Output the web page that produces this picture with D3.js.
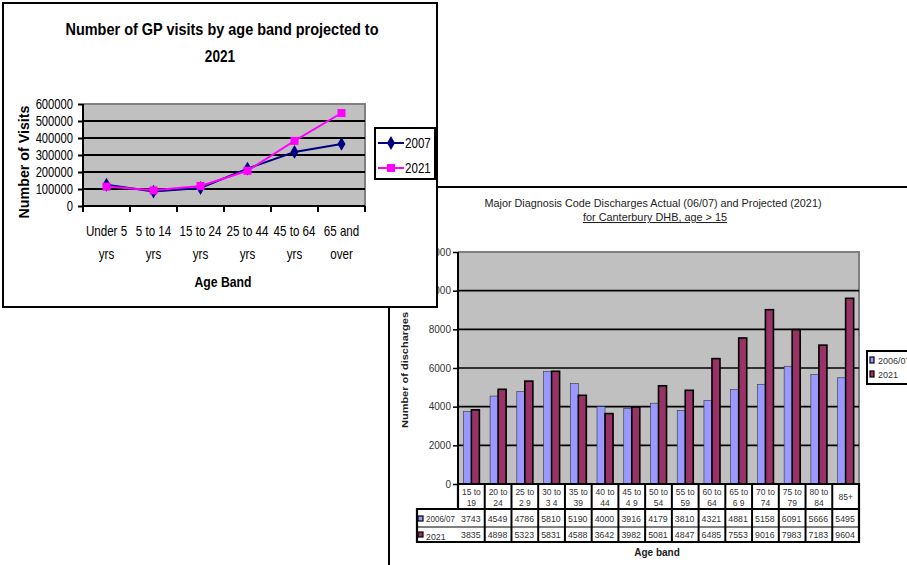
<!DOCTYPE html>
<html>
<head>
<meta charset="utf-8">
<script src="https://cdn.jsdelivr.net/npm/d3@7"></script>
<style>
  html, body { margin: 0; padding: 0; background: #fff; }
  svg { display: block; }
  .narrow { font-family: "Liberation Sans", Arial, sans-serif; }
  .arial { font-family: "Liberation Sans", Arial, sans-serif; }
</style>
</head>
<body>
<svg id="chart" width="907" height="565"></svg>
<script>
// GP visits by age band
const gpBands = ["Under 5|yrs", "5 to 14|yrs", "15 to 24|yrs", "25 to 44|yrs", "45 to 64|yrs", "65 and|over"];
const gp2007 = [125000, 85000, 106000, 220000, 318000, 365000];
const gp2021 = [114000, 92000, 118000, 207000, 383000, 547000];
const gpTicks = [0, 100000, 200000, 300000, 400000, 500000, 600000];

// Discharges by age band
const dischargeBands = ["15 to|19", "20 to|24", "25 to|2 9", "30 to|3 4", "35 to|39", "40 to|44", "45 to|4 9",
  "50 to|54", "55 to|59", "60 to|64", "65 to|6 9", "70 to|74", "75 to|79", "80 to|84", "85+"];
const discharges0607 = [3743, 4549, 4786, 5810, 5190, 4000, 3916, 4179, 3810, 4321, 4881, 5158, 6091, 5666, 5495];
const discharges2021 = [3835, 4898, 5323, 5831, 4588, 3642, 3982, 5081, 4847, 6485, 7553, 9016, 7983, 7183, 9604];
const dischargeTicks = [0, 2000, 4000, 6000, 8000, 10000, 12000];
const dischargeSeries = ["2006/07", "2021"];

const svg = d3.select("#chart");

// squeeze a text (or tspan) horizontally to mimic a condensed face
function condense(sel, f) {
  sel.each(function () {
    const w = this.getComputedTextLength();
    d3.select(this).attr("textLength", w * f).attr("lengthAdjust", "spacingAndGlyphs");
  });
}
function fitTo(sel, w) {
  sel.attr("textLength", w).attr("lengthAdjust", "spacingAndGlyphs");
}

/* ---------------- Discharges bar chart (drawn first, sits underneath) ---------------- */
const B = { left: 458, right: 859, top: 252, bottom: 484 };
const bg = svg.append("g");

// outer frame of the discharges chart
bg.append("line").attr("x1", 389).attr("x2", 907).attr("y1", 187).attr("y2", 187)
  .attr("stroke", "#000").attr("stroke-width", 2);
bg.append("line").attr("x1", 389).attr("x2", 389).attr("y1", 187).attr("y2", 565)
  .attr("stroke", "#000").attr("stroke-width", 2);

bg.append("text").attr("class", "arial").attr("x", 653).attr("y", 207)
  .attr("text-anchor", "middle").attr("font-size", 10.5).attr("fill", "#222")
  .text("Major Diagnosis Code Discharges Actual (06/07) and Projected (2021)")
  .call(fitTo, 337);
bg.append("text").attr("class", "arial").attr("x", 655).attr("y", 221)
  .attr("text-anchor", "middle").attr("font-size", 10.5).attr("fill", "#222")
  .attr("text-decoration", "underline")
  .text("for Canterbury DHB, age > 15")
  .call(fitTo, 144);

const bx = d3.scaleBand().domain(dischargeBands).range([B.left, B.right])
  .paddingInner(0.4).paddingOuter(0.2);
const bxs = d3.scaleBand().domain(dischargeSeries).range([0, bx.bandwidth()]);
const by = d3.scaleLinear().domain([0, 12000]).range([B.bottom, B.top]);
const bColors = d3.scaleOrdinal().domain(dischargeSeries).range(["#9999FF", "#993366"]);

bg.append("rect").attr("x", B.left).attr("y", B.top)
  .attr("width", B.right - B.left).attr("height", B.bottom - B.top)
  .attr("fill", "#C0C0C0");
bg.append("path")
  .attr("d", `M${B.left},${B.top}H${B.right}V${B.bottom}`)
  .attr("fill", "none").attr("stroke", "#808080").attr("stroke-width", 2);

bg.append("g").selectAll("line").data(dischargeTicks.filter(t => t > 0 && t < 12000)).join("line")
  .attr("x1", B.left).attr("x2", B.right)
  .attr("y1", d => by(d)).attr("y2", d => by(d))
  .attr("stroke", "#000").attr("stroke-width", 1.6);

const rows = dischargeBands.map((b, i) => ({ band: b, vals: [discharges0607[i], discharges2021[i]] }));
bg.append("g").selectAll("g").data(rows).join("g")
  .attr("transform", d => `translate(${bx(d.band)},0)`)
  .selectAll("rect").data(d => d.vals.map((v, j) => ({ s: dischargeSeries[j], v })))
  .join("rect")
  .attr("x", d => bxs(d.s))
  .attr("y", d => by(d.v))
  .attr("width", bxs.bandwidth())
  .attr("height", d => by(0) - by(d.v))
  .attr("fill", d => bColors(d.s))
  .attr("stroke", d => d.s === "2021" ? "#000" : "#333")
  .attr("stroke-width", d => d.s === "2021" ? 1.6 : 0.6);

// y axis
const byAxis = bg.append("g").attr("transform", `translate(${B.left},0)`)
  .call(d3.axisLeft(by).tickValues(dischargeTicks).tickSize(5).tickPadding(2).tickFormat(d3.format("d")));
byAxis.select(".domain").attr("stroke", "#000").attr("stroke-width", 2).attr("d", `M0,${B.top}V${B.bottom}`);
byAxis.selectAll(".tick line").attr("stroke", "#000").attr("stroke-width", 1.5);
byAxis.selectAll(".tick text").attr("class", "arial").attr("font-size", 10).attr("fill", "#333");

bg.append("text").attr("class", "arial")
  .attr("transform", "translate(408,370) rotate(-90)")
  .attr("text-anchor", "middle").attr("font-size", 9.5).attr("font-weight", "bold").attr("fill", "#222")
  .text("Number of discharges")
  .call(fitTo, 116);

// data table under the plot
const T = { keyLeft: 417, headTop: 484, headBottom: 509, row1Bottom: 527, row2Bottom: 542 };
const colEdge = i => B.left + i * (B.right - B.left) / dischargeBands.length;
const tbl = bg.append("g");
tbl.append("rect").attr("x", B.left).attr("y", T.headTop)
  .attr("width", B.right - B.left).attr("height", T.row2Bottom - T.headTop)
  .attr("fill", "#fff");
tbl.append("rect").attr("x", T.keyLeft).attr("y", T.headBottom)
  .attr("width", B.left - T.keyLeft).attr("height", T.row2Bottom - T.headBottom)
  .attr("fill", "#fff");
// column separators
tbl.selectAll("line.col").data(d3.range(1, dischargeBands.length)).join("line")
  .attr("class", "col")
  .attr("x1", i => colEdge(i)).attr("x2", i => colEdge(i))
  .attr("y1", T.headTop).attr("y2", T.row2Bottom)
  .attr("stroke", "#000").attr("stroke-width", 2);
tbl.append("line").attr("x1", T.keyLeft).attr("x2", B.right).attr("y1", T.headBottom).attr("y2", T.headBottom)
  .attr("stroke", "#000").attr("stroke-width", 2);
tbl.append("line").attr("x1", T.keyLeft).attr("x2", B.right).attr("y1", T.row1Bottom).attr("y2", T.row1Bottom)
  .attr("stroke", "#000").attr("stroke-width", 1);
tbl.append("path")
  .attr("d", `M${B.left},${T.headTop}H${B.right}V${T.row2Bottom}H${T.keyLeft}V${T.headBottom}H${B.left}Z`)
  .attr("fill", "none").attr("stroke", "#000").attr("stroke-width", 2.2);

// header labels
const heads = tbl.selectAll("text.head").data(dischargeBands).join("text")
  .attr("class", "arial head")
  .attr("x", d => bx(d) + bx.bandwidth() / 2)
  .attr("text-anchor", "middle").attr("font-size", 8.5).attr("fill", "#333");
heads.each(function (d) {
  const parts = d.split("|");
  const t = d3.select(this);
  if (parts.length === 1) {
    t.attr("y", 500).text(parts[0]);
  } else {
    t.append("tspan").attr("x", bx(d) + bx.bandwidth() / 2).attr("y", 495).text(parts[0]);
    t.append("tspan").attr("x", bx(d) + bx.bandwidth() / 2).attr("y", 506).text(parts[1]);
  }
});
// value rows
const tableRows = [
  { name: "2006/07", vals: discharges0607, y: 522 },
  { name: "2021", vals: discharges2021, y: 538 }
];
tableRows.forEach(r => {
  tbl.append("g").selectAll("text").data(r.vals).join("text")
    .attr("class", "arial")
    .attr("x", (v, i) => colEdge(i) + 3)
    .attr("y", r.y)
    .attr("font-size", 8.8).attr("fill", "#333")
    .text(v => v);
  tbl.append("rect").attr("x", 418).attr("y", r.y - 6).attr("width", 5).attr("height", 5)
    .attr("fill", bColors(r.name)).attr("stroke", "#000").attr("stroke-width", 1.2);
  tbl.append("text").attr("class", "arial").attr("x", 426).attr("y", r.y + (r.name === "2021" ? 2 : 0))
    .attr("font-size", 8.8).attr("fill", "#333").text(r.name)
    .call(r.name === "2006/07" ? fitTo : () => {}, 29);
});

bg.append("text").attr("class", "arial").attr("x", 657).attr("y", 556)
  .attr("text-anchor", "middle").attr("font-size", 10).attr("font-weight", "bold").attr("fill", "#222")
  .text("Age band");

// legend (runs off the right edge)
const bl = bg.append("g");
bl.append("rect").attr("x", 867).attr("y", 351).attr("width", 60).attr("height", 33)
  .attr("fill", "#fff").attr("stroke", "#000").attr("stroke-width", 2);
dischargeSeries.forEach((s, i) => {
  bl.append("rect").attr("x", 870).attr("y", 357 + i * 14).attr("width", 4).attr("height", 6)
    .attr("fill", bColors(s)).attr("stroke", "#000").attr("stroke-width", 1.2);
  bl.append("text").attr("class", "arial").attr("x", 878).attr("y", 364 + i * 14)
    .attr("font-size", 9).attr("fill", "#333").text(s);
});

/* ---------------- GP visits line chart (on top) ---------------- */
const NARROW = 0.8;
const L = { left: 83, right: 365, top: 104, bottom: 206 };
const lg = svg.append("g");
lg.append("rect").attr("x", 3).attr("y", 3).attr("width", 434).attr("height", 304)
  .attr("fill", "#fff").attr("stroke", "#000").attr("stroke-width", 2);

lg.append("text").attr("class", "narrow").attr("x", 222).attr("y", 35)
  .attr("text-anchor", "middle").attr("font-size", 17).attr("font-weight", "bold")
  .text("Number of GP visits by age band projected to")
  .call(fitTo, 313);
lg.append("text").attr("class", "narrow").attr("x", 220).attr("y", 62)
  .attr("text-anchor", "middle").attr("font-size", 17).attr("font-weight", "bold")
  .text("2021")
  .call(condense, NARROW);

const lx = d3.scaleBand().domain(gpBands).range([L.left, L.right]);
const ly = d3.scaleLinear().domain([0, 600000]).range([L.bottom, L.top]);

lg.append("rect").attr("x", L.left).attr("y", L.top)
  .attr("width", L.right - L.left).attr("height", L.bottom - L.top).attr("fill", "#C0C0C0");
lg.append("path").attr("d", `M${L.left},${L.top}H${L.right}V${L.bottom}`)
  .attr("fill", "none").attr("stroke", "#808080").attr("stroke-width", 2);
lg.append("g").selectAll("line").data(gpTicks.filter(t => t > 0 && t < 600000)).join("line")
  .attr("x1", L.left).attr("x2", L.right)
  .attr("y1", d => ly(d)).attr("y2", d => ly(d))
  .attr("stroke", "#000").attr("stroke-width", 1.8);

const lyAxis = lg.append("g").attr("transform", `translate(${L.left},0)`)
  .call(d3.axisLeft(ly).tickValues(gpTicks).tickSize(5).tickPadding(5).tickFormat(d3.format("d")));
lyAxis.select(".domain").attr("stroke", "#000").attr("stroke-width", 2).attr("d", `M0,${L.top}V${L.bottom}`);
lyAxis.selectAll(".tick line").attr("stroke", "#000").attr("stroke-width", 2);
lyAxis.selectAll(".tick text").attr("class", "narrow").attr("font-size", 14).attr("fill", "#000")
  .call(condense, NARROW);

// x axis with ticks on category boundaries
const lxAxis = lg.append("g").attr("transform", `translate(0,${L.bottom})`);
lxAxis.append("line").attr("x1", L.left).attr("x2", L.right).attr("stroke", "#000").attr("stroke-width", 2);
lxAxis.selectAll("line.tk").data(d3.range(gpBands.length + 1)).join("line").attr("class", "tk")
  .attr("x1", i => L.left + i * lx.step()).attr("x2", i => L.left + i * lx.step())
  .attr("y1", 0).attr("y2", 6).attr("stroke", "#000").attr("stroke-width", 2);
// category labels, two lines each, horizontally squeezed
lg.selectAll("g.xl").data(gpBands).join("g").attr("class", "xl")
  .attr("transform", d => `translate(${lx(d) + lx.bandwidth() / 2},0) scale(${NARROW},1)`)
  .each(function (d) {
    const p = d.split("|");
    const g = d3.select(this);
    p.forEach((s, k) => g.append("text").attr("class", "narrow")
      .attr("x", 0).attr("y", 236 + k * 23)
      .attr("text-anchor", "middle").attr("font-size", 14.5).text(s));
  });

lg.append("text").attr("class", "narrow").attr("x", 223).attr("y", 287)
  .attr("text-anchor", "middle").attr("font-size", 15).attr("font-weight", "bold").text("Age Band")
  .call(fitTo, 57);
lg.append("text").attr("class", "narrow")
  .attr("transform", "translate(29,162) rotate(-90)")
  .attr("text-anchor", "middle").attr("font-size", 15).attr("font-weight", "bold")
  .text("Number of Visits")
  .call(fitTo, 113);

const cx = d => lx(d) + lx.bandwidth() / 2;
const line = d3.line().x(d => cx(d.b)).y(d => ly(d.v));
const s2007 = gpBands.map((b, i) => ({ b, v: gp2007[i] }));
const s2021 = gpBands.map((b, i) => ({ b, v: gp2021[i] }));
const diamond = d3.symbol().type(d3.symbolDiamond).size(55);

lg.append("path").datum(s2007).attr("d", line).attr("fill", "none").attr("stroke", "#000080").attr("stroke-width", 2);
lg.selectAll("path.m07").data(s2007).join("path").attr("class", "m07")
  .attr("transform", d => `translate(${cx(d.b)},${ly(d.v)})`).attr("d", diamond).attr("fill", "#000080");
lg.append("path").datum(s2021).attr("d", line).attr("fill", "none").attr("stroke", "#FF00FF").attr("stroke-width", 2);
lg.selectAll("rect.m21").data(s2021).join("rect").attr("class", "m21")
  .attr("x", d => cx(d.b) - 4).attr("y", d => ly(d.v) - 4).attr("width", 8).attr("height", 8)
  .attr("fill", "#FF00FF");

// legend
const ll = lg.append("g");
ll.append("rect").attr("x", 375).attr("y", 128).attr("width", 60).attr("height", 51)
  .attr("fill", "#fff").attr("stroke", "#000").attr("stroke-width", 2);
ll.append("line").attr("x1", 378).attr("x2", 404).attr("y1", 143).attr("y2", 143).attr("stroke", "#000080").attr("stroke-width", 2);
ll.append("path").attr("transform", "translate(391,143)").attr("d", diamond).attr("fill", "#000080");
ll.append("line").attr("x1", 378).attr("x2", 404).attr("y1", 168).attr("y2", 168).attr("stroke", "#FF00FF").attr("stroke-width", 2);
ll.append("rect").attr("x", 387).attr("y", 164).attr("width", 8).attr("height", 8).attr("fill", "#FF00FF");
ll.append("text").attr("class", "narrow").attr("x", 405).attr("y", 148).attr("font-size", 14.5).text("2007")
  .call(condense, NARROW);
ll.append("text").attr("class", "narrow").attr("x", 405).attr("y", 173).attr("font-size", 14.5).text("2021")
  .call(condense, NARROW);
</script>
</body>
</html>
